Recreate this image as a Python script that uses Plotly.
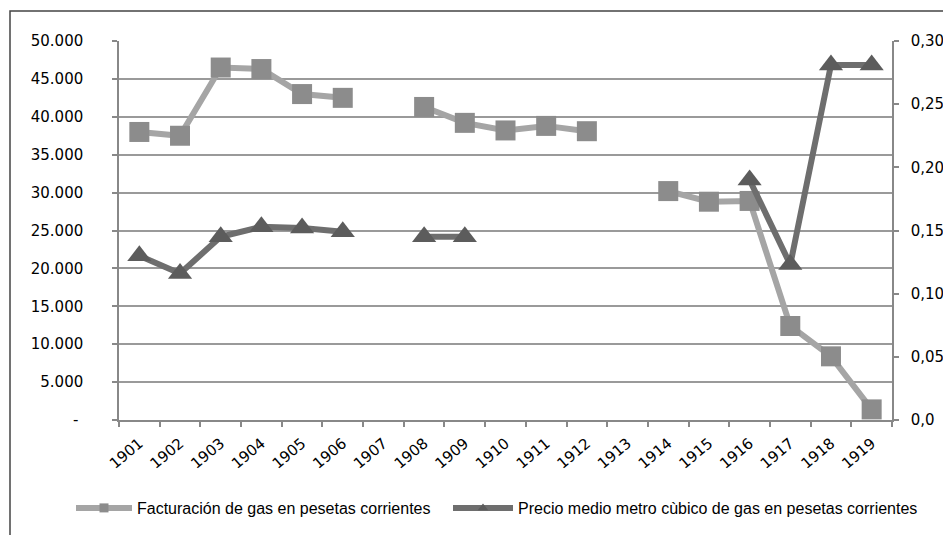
import plotly.graph_objects as go

years = [str(y) for y in range(1901, 1920)]
facturacion = [38000, 37500, 46500, 46300, 43000, 42500, None, 41300, 39200, 38200,
               38800, 38100, None, 30200, 28800, 28900, 12400, 8400, 1400]
precio = [0.130, 0.116, 0.145, 0.153, 0.152, 0.149, None, 0.145, 0.145, None,
          None, None, None, None, None, 0.190, 0.123, 0.281, 0.281]

left_ticks = [0, 5000, 10000, 15000, 20000, 25000, 30000, 35000, 40000, 45000, 50000]
left_labels = ["-\u00a0", "5.000", "10.000", "15.000", "20.000", "25.000",
               "30.000", "35.000", "40.000", "45.000", "50.000"]
right_ticks = [0, 0.05, 0.10, 0.15, 0.20, 0.25, 0.30]
right_labels = ["0,0", "0,05", "0,10", "0,15", "0,20", "0,25", "0,30"]

names = ["Facturación de gas en pesetas corrientes",
         "Precio medio metro cùbico de gas en pesetas corrientes"]

# page body has an 8px default margin; compensate so the plot lands where intended
OFF = 8
W, H = 951 - OFF, 535 - OFF
PL, PR, PT, PB = 119, 892, 41, 420          # target plot box in screen pixels
ml, mt = PL - OFF, PT - OFF
pw, ph = PR - PL, PB - PT
mr, mb = W - ml - pw, H - mt - ph

def px_x(p):
    return (p - PL) / pw

def px_y(p):
    return 1 - (p - PT) / ph

tick_font = dict(family="DejaVu Sans, sans-serif", size=15, color="#000000")
leg_font = dict(family="Liberation Sans, Arial, sans-serif", size=16, color="#000000")

light_line, light_mark = "#a5a5a5", "#8c8c8c"
dark_line, dark_mark = "#6e6e6e", "#5c5c5c"

fig = go.Figure()
fig.add_trace(go.Scatter(
    x=years, y=facturacion, name=names[0], showlegend=False,
    mode="lines+markers",
    line=dict(color=light_line, width=6),
    marker=dict(symbol="square", size=20, color=light_mark, line=dict(width=0)),
    connectgaps=False,
))
fig.add_trace(go.Scatter(
    x=years, y=precio, name=names[1], showlegend=False,
    mode="lines+markers", yaxis="y2",
    line=dict(color=dark_line, width=6),
    marker=dict(symbol="triangle-up", size=21, color=dark_mark, line=dict(width=0)),
    connectgaps=False,
))
# legend entries with small markers like the reference
fig.add_trace(go.Scatter(
    x=[None], y=[None], name=names[0], mode="lines+markers", legend="legend",
    line=dict(color=light_line, width=6),
    marker=dict(symbol="square", size=9, color=light_mark, line=dict(width=0)),
))
fig.add_trace(go.Scatter(
    x=[None], y=[None], name=names[1], mode="lines+markers", yaxis="y2", legend="legend2",
    line=dict(color=dark_line, width=6),
    marker=dict(symbol="triangle-up", size=9, color=dark_mark, line=dict(width=0)),
))

fig.add_shape(type="rect", xref="paper", yref="paper",
              x0=px_x(10), x1=px_x(990), y0=px_y(580), y1=px_y(11),
              line=dict(color="#444444", width=1.5), fillcolor="rgba(0,0,0,0)", layer="below")

axis_common = dict(ticks="outside", ticklen=5, tickcolor="#888888", tickwidth=1.5,
                   showline=True, linecolor="#888888", linewidth=1.5, automargin=False)

fig.update_layout(
    width=W, height=H,
    margin=dict(l=ml, r=mr, t=mt, b=mb, autoexpand=False),
    paper_bgcolor="white", plot_bgcolor="white",
    font=tick_font,
    showlegend=True,
    legend=dict(orientation="h", x=px_x(71), xanchor="left", y=px_y(508), yanchor="middle",
                font=leg_font, itemwidth=56, bgcolor="rgba(0,0,0,0)"),
    legend2=dict(orientation="h", x=px_x(448), xanchor="left", y=px_y(508), yanchor="middle",
                 font=leg_font, itemwidth=60, bgcolor="rgba(0,0,0,0)"),
    xaxis=dict(type="category", tickangle=-40, tickson="boundaries",
               showgrid=False, tickfont=tick_font, range=[-0.5, 18.5],
               ticklabelstandoff=7, **axis_common),
    yaxis=dict(range=[0, 50000], tickvals=left_ticks, ticktext=left_labels,
               showgrid=True, gridcolor="#9a9a9a", gridwidth=1.5,
               zeroline=False, ticklabelstandoff=26, tickfont=tick_font, **axis_common),
    yaxis2=dict(range=[0, 0.30], tickvals=right_ticks, ticktext=right_labels,
                overlaying="y", side="right",
                showgrid=False, zeroline=False, ticklabelstandoff=9, tickfont=tick_font,
                **axis_common),
)

fig.write_html("out.html")
